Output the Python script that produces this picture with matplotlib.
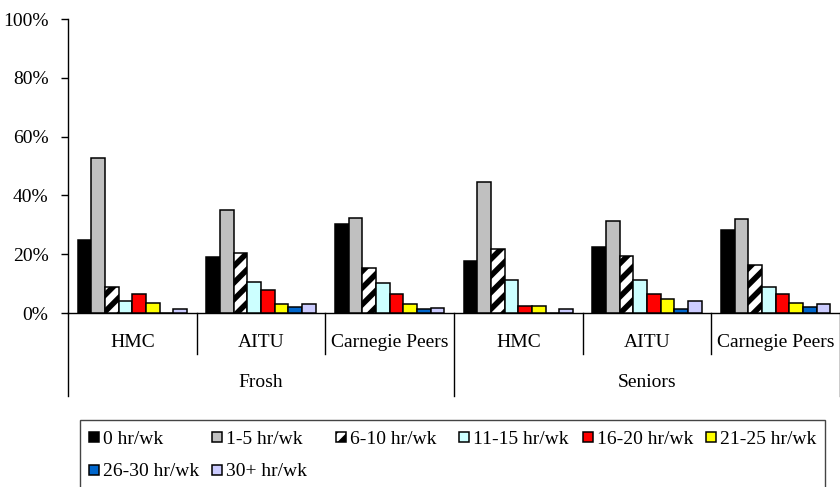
import matplotlib
matplotlib.use("Agg")
import matplotlib.pyplot as plt
from matplotlib.patches import Rectangle
from matplotlib.lines import Line2D
from matplotlib.ticker import FuncFormatter
import numpy as np

plt.rcParams['font.family'] = ['Liberation Serif', 'DejaVu Serif']
plt.rcParams['hatch.linewidth'] = 4.0
plt.rcParams['hatch.color'] = 'black'

groups = ["Frosh", "Seniors"]
schools = ["HMC", "AITU", "Carnegie Peers"]
series = ["0 hr/wk", "1-5 hr/wk", "6-10 hr/wk", "11-15 hr/wk",
          "16-20 hr/wk", "21-25 hr/wk", "26-30 hr/wk", "30+ hr/wk"]

# percent of students per category (rows: Frosh HMC, AITU, Carnegie, Seniors HMC, AITU, Carnegie)
frosh_hmc = [24.8, 52.6, 8.9, 4.0, 6.5, 3.5, 0.0, 1.2]
frosh_aitu = [18.9, 35.1, 20.5, 10.5, 7.8, 3.0, 1.9, 3.0]
frosh_carnegie = [30.3, 32.2, 15.3, 10.1, 6.5, 3.0, 1.4, 1.8]
seniors_hmc = [17.8, 44.6, 21.8, 11.2, 2.5, 2.5, 0.0, 1.2]
seniors_aitu = [22.4, 31.2, 19.4, 11.2, 6.5, 4.8, 1.4, 4.2]
seniors_carnegie = [28.3, 32.1, 16.4, 8.8, 6.5, 3.5, 1.9, 3.0]

table = np.array([frosh_hmc, frosh_aitu, frosh_carnegie,
                  seniors_hmc, seniors_aitu, seniors_carnegie])

colors = ["#000000", "#C0C0C0", "#FFFFFF", "#CCFFFF",
          "#FF0000", "#FFFF00", "#0066CC", "#CCCCFF"]
hatches = [None, None, "//", None, None, None, None, None]

W, H = 840, 487
fig = plt.figure(figsize=(W / 100, H / 100), dpi=100)
ax = fig.add_axes([68 / W, 1 - 313 / H, (840 - 68) / W, (313 - 19) / H])

n_cat = table.shape[0]
n_ser = table.shape[1]
span = 0.852
bw = span / n_ser
x0 = np.arange(n_cat) + (1 - span) / 2

for j in range(n_ser):
    ax.bar(x0 + j * bw, table[:, j], width=bw, align="edge",
           color=colors[j], edgecolor="black", linewidth=1.1,
           hatch=hatches[j], zorder=3)

ax.set_xlim(0, n_cat)
ax.set_ylim(0, 100)
ax.set_yticks(np.arange(0, 101, 20))
ax.yaxis.set_major_formatter(FuncFormatter(lambda v, p: f"{int(v)}%"))
ax.tick_params(axis="y", length=5, width=1, pad=9, labelsize=14, direction="out")
ax.set_xticks([])
for s in ["top", "right"]:
    ax.spines[s].set_visible(False)
ax.spines["left"].set_linewidth(1)
ax.spines["bottom"].set_linewidth(1)

tr = ax.get_xaxis_transform()
# category separators below the axis
for k in range(n_cat + 1):
    y_end = -0.282 if k % 3 == 0 else -0.1395
    ax.add_line(Line2D([k, k], [0, y_end], transform=tr, color="black",
                       linewidth=1, clip_on=False))

labels_cat = schools * len(groups)
for k, lab in enumerate(labels_cat):
    ax.text(k + 0.5, -0.1146, lab, transform=tr, ha="center", va="baseline",
            fontsize=14)
for g, lab in enumerate(groups):
    ax.text(g * 3 + 1.5, -0.2528, lab, transform=tr, ha="center", va="baseline",
            fontsize=14)

# legend box and entries
fig.patches.append(Rectangle((80 / W, 1 - 500 / H), (825 - 80) / W, (500 - 420) / H,
                             transform=fig.transFigure, facecolor="white",
                             edgecolor="#444444", linewidth=1, zorder=1))
col_step = 123.4
rows_y = [437, 470]
for i, lab in enumerate(series):
    col, row = i % 6, i // 6
    mx = 89 + col * col_step
    my = rows_y[row]
    fig.patches.append(Rectangle((mx / W, 1 - (my + 5) / H), 10 / W, 10 / H,
                                 transform=fig.transFigure, facecolor=colors[i],
                                 edgecolor="black", linewidth=1.1,
                                 hatch=hatches[i], zorder=2))
    fig.text((mx + 14) / W, 1 - (my + 6.5) / H, lab, ha="left", va="baseline",
             fontsize=14)

fig.savefig("out.png", dpi=100)
